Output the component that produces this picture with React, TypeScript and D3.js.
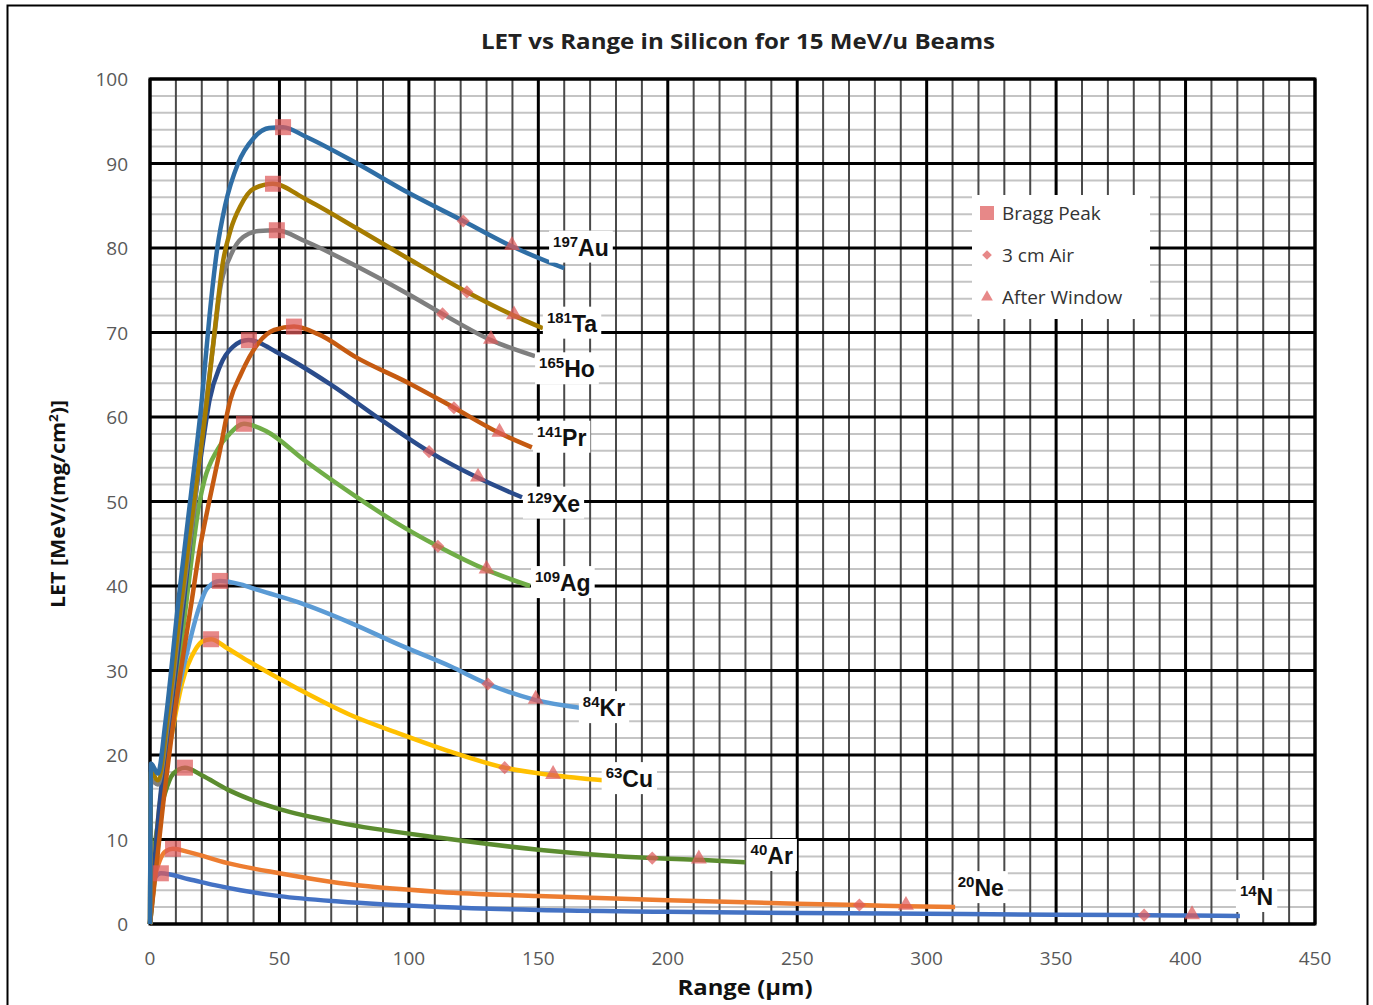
import * as d3 from 'd3';
import { useEffect, useRef } from 'react';

// ion names and mass numbers, in drawing order (bottom to top)
const ions = ['N', 'Ne', 'Ar', 'Cu', 'Kr', 'Ag', 'Xe', 'Pr', 'Ho', 'Ta', 'Au'];
const masses = ['14', '20', '40', '63', '84', '109', '129', '141', '165', '181', '197'];
const colors = ['#4472C4', '#ED7D31', '#5B8C2F', '#FFC000', '#5B9BD5', '#70AD47', '#2A4C8C', '#C55A11', '#7F7F7F', '#A67C00', '#2F6EA5'];

// LET vs range curves, [range µm, LET MeV/(mg/cm2)]
const nCurve = [[0, 0], [0.5, 3], [2, 5.5], [4.2, 6.0], [15, 5.3], [25, 4.6], [35, 4.0], [50, 3.3], [73, 2.65], [112, 2.0], [150, 1.65], [200, 1.45], [251, 1.3], [300, 1.2], [350, 1.1], [384, 1.05], [402.5, 1.0], [421, 0.95]];
const neCurve = [[0, 0], [1, 4], [3.9, 7.6], [6, 8.6], [8.9, 8.9], [15, 8.5], [30, 7.2], [50, 6.0], [73, 4.85], [112, 3.8], [150, 3.3], [200, 2.8], [250, 2.4], [274, 2.25], [292, 2.1], [311, 2.0]];
const arCurve = [[0, 0], [1.5, 8], [3.5, 12.7], [5.8, 15.5], [9, 17.8], [13.5, 18.5], [20, 17.6], [30, 15.9], [40, 14.6], [50, 13.6], [73, 12.0], [112, 10.2], [150, 8.8], [194, 7.8], [212, 7.6], [230, 7.3]];
const cuCurve = [[0, 0], [3, 12], [8.5, 22.6], [12.4, 28.5], [17.4, 32.4], [20, 33.4], [23.6, 33.7], [30, 32.6], [38.6, 31.0], [58, 27.7], [77, 24.8], [96.6, 22.5], [116, 20.4], [137, 18.5], [155.7, 17.6], [175, 17]];
const krCurve = [[0, 0], [5, 15], [10, 26], [15, 33], [19, 37.5], [22, 39.7], [27, 40.6], [35, 40.2], [42, 39.5], [58, 38.0], [77, 35.7], [96.6, 33.0], [116, 30.5], [130.5, 28.4], [149, 26.5], [166, 25.6]];
const agCurve = [[0, 0], [4, 12], [9, 25], [14, 38], [19.3, 50.2], [21, 52.5], [26, 56.1], [31, 58.1], [36.3, 59.2], [45, 58.3], [60, 54.8], [80, 50.5], [95, 47.5], [111.2, 44.7], [130, 41.9], [146.8, 40]];
const xeCurve = [[0, 0], [3, 12], [8, 25], [13, 38], [17.4, 50.2], [20, 56], [23, 62], [27, 66], [32, 68.3], [38, 69.1], [50, 67.5], [70, 63.8], [90, 59.5], [107.8, 55.9], [126.7, 52.8], [143.7, 50.5]];
const prCurve = [[0, 0], [5, 14], [10, 26], [16, 38], [19, 44], [23, 50.2], [27, 56], [31, 62], [35, 65], [42, 68.8], [48, 70.3], [55.6, 70.7], [65, 69.8], [80, 67], [100, 64], [117.4, 61.1], [135, 58.1], [147.5, 56.4]];
const hoCurve = [[0, 0], [0.4, 17], [3, 16.5], [7, 24], [12, 37], [17, 49], [21, 60], [25, 70], [27, 75], [31, 79], [36, 81.3], [42, 82], [49, 82.1], [60, 80.8], [80, 77.8], [100, 74.5], [113, 72.2], [131.7, 69.1], [148.7, 67.2]];
const taCurve = [[0, 0], [0.4, 18], [3, 17], [7, 25], [12, 38], [17, 50], [22, 62], [26, 73], [28, 78], [31, 82], [35, 85], [40, 87], [47.5, 87.6], [60, 85.8], [80, 82.3], [100, 78.7], [122.4, 74.8], [140.6, 72], [151.8, 70.5]];
const auCurve = [[0, 0], [0.4, 19], [3, 17.8], [6, 24], [11, 38.3], [15.5, 50], [20, 62], [23, 72], [26, 80], [29, 85], [34, 90], [40, 93], [46, 94.2], [51.4, 94.3], [60, 93.2], [80, 90], [100, 86.5], [121, 83.2], [139.8, 80.2], [160, 77.6]];
const curves = [nCurve, neCurve, arCurve, cuCurve, krCurve, agCurve, xeCurve, prCurve, hoCurve, taCurve, auCurve];

// marker points
const braggPeak = [[4.2, 6.0], [8.9, 8.9], [13.5, 18.5], [23.6, 33.7], [27, 40.6], [36.3, 59.2], [38.2, 69.1], [55.6, 70.7], [49, 82.1], [47.5, 87.6], [51.4, 94.3]];
const air3cm = [[384, 1.05], [274, 2.25], [194, 7.8], [137, 18.5], [130.5, 28.4], [111.2, 44.7], [107.8, 55.9], [117.4, 61.1], [113, 72.2], [122.4, 74.8], [121, 83.2]];
const afterWindow = [[402.5, 1.0], [292, 2.1], [212, 7.6], [155.7, 17.6], [149, 26.5], [130, 41.9], [126.7, 52.8], [135, 58.1], [131.7, 69.1], [140.6, 72], [139.8, 80.2]];

// label anchors (data units, baseline left)
const labelPos = [[421, 2.25], [312, 3.3], [232, 7.1], [176, 16.2], [167.2, 24.6], [148.7, 39.4], [145.6, 48.8], [149.5, 56.6], [150.3, 64.7], [153.3, 70.1], [155.7, 79.1]];

const xTicks = d3.range(0, 451, 50);
const yTicks = d3.range(0, 101, 10);
const legendItems = ['Bragg Peak', '3 cm Air', 'After Window'];

const W = 1373, H = 1005;
const markerFill = 'rgba(222,90,90,0.72)';

export default function App() {
    const ref = useRef<any>();

    useEffect(() => {
        const svg = d3.select(ref.current);
        svg.selectAll('*').remove();
        svg.append('rect').attr('width', W).attr('height', H).attr('fill', '#fff');
        svg.append('rect').attr('x', 7.5).attr('y', 5.5).attr('width', 1360).attr('height', 1010)
            .attr('fill', 'none').attr('stroke', '#000').attr('stroke-width', 2);

        const x = d3.scaleLinear().domain([0, 450]).range([150, 1315]);
        const y = d3.scaleLinear().domain([0, 100]).range([924, 79]);

        const grid = svg.append('g');
        const yMinor = d3.range(0, 101, 2).filter(v => v % 10 !== 0);
        grid.selectAll('.hminor').data(yMinor).join('line')
            .attr('x1', x(0)).attr('x2', x(450)).attr('y1', d => y(d)).attr('y2', d => y(d))
            .attr('stroke', '#c4c4c4').attr('stroke-width', 2);
        const xMinor = d3.range(0, 451, 10).filter(v => v % 50 !== 0);
        grid.selectAll('.vminor').data(xMinor).join('line')
            .attr('x1', d => x(d)).attr('x2', d => x(d)).attr('y1', y(0)).attr('y2', y(100))
            .attr('stroke', '#4a4a4a').attr('stroke-width', 2);
        grid.selectAll('.hmajor').data(yTicks).join('line')
            .attr('x1', x(0)).attr('x2', x(450)).attr('y1', d => y(d)).attr('y2', d => y(d))
            .attr('stroke', '#000').attr('stroke-width', 3);
        grid.selectAll('.vmajor').data(xTicks).join('line')
            .attr('x1', d => x(d)).attr('x2', d => x(d)).attr('y1', y(0)).attr('y2', y(100))
            .attr('stroke', '#000').attr('stroke-width', 3);
        grid.append('rect').attr('x', x(0)).attr('y', y(100)).attr('width', x(450) - x(0)).attr('height', y(0) - y(100))
            .attr('fill', 'none').attr('stroke', '#000').attr('stroke-width', 3);

        // tick labels
        svg.append('g').selectAll('text').data(yTicks).join('text')
            .attr('x', 128).attr('y', d => y(d) + 7).attr('text-anchor', 'end')
            .attr('font-family', 'Open Sans').attr('font-size', 19).attr('fill', '#595959').text(d => d);
        svg.append('g').selectAll('text').data(xTicks).join('text')
            .attr('x', d => x(d)).attr('y', 965).attr('text-anchor', 'middle')
            .attr('font-family', 'Open Sans').attr('font-size', 19).attr('fill', '#595959').text(d => d);

        // titles
        svg.append('text').attr('x', 738).attr('y', 49).attr('text-anchor', 'middle')
            .attr('font-family', 'Open Sans').attr('font-weight', 700).attr('font-size', 21)
            .attr('textLength', 514).attr('lengthAdjust', 'spacingAndGlyphs').attr('fill', '#222')
            .text('LET vs Range in Silicon for 15 MeV/u Beams');
        svg.append('text').attr('x', 745).attr('y', 995).attr('text-anchor', 'middle')
            .attr('font-family', 'Open Sans').attr('font-weight', 700).attr('font-size', 22)
            .attr('textLength', 135).attr('lengthAdjust', 'spacingAndGlyphs').attr('fill', '#111')
            .text('Range (µm)');
        const yt = svg.append('text').attr('transform', 'translate(65,504) rotate(-90)').attr('text-anchor', 'middle')
            .attr('font-family', 'Open Sans').attr('font-weight', 700).attr('font-size', 19)
            .attr('textLength', 208).attr('lengthAdjust', 'spacingAndGlyphs').attr('fill', '#111');
        yt.append('tspan').text('LET [MeV/(mg/cm');
        yt.append('tspan').attr('font-size', 12).attr('dy', -7).text('2');
        yt.append('tspan').attr('dy', 7).text(')]');

        // curves
        const line = d3.line<any>().x(d => x(d[0])).y(d => y(d[1])).curve(d3.curveMonotoneX);
        svg.append('g').selectAll('path').data(curves).join('path')
            .attr('d', d => line(d))
            .attr('fill', 'none').attr('stroke', (d, i) => colors[i]).attr('stroke-width', 4.5)
            .attr('stroke-linejoin', 'round');

        // markers
        const mk = svg.append('g');
        mk.selectAll('.bp').data(braggPeak).join('rect')
            .attr('x', d => x(d[0]) - 8).attr('y', d => y(d[1]) - 8).attr('width', 16).attr('height', 16)
            .attr('fill', markerFill);
        const diamond = d3.symbol().type(d3.symbolDiamond2).size(110);
        mk.selectAll('.air').data(air3cm).join('path')
            .attr('d', diamond).attr('transform', d => `translate(${x(d[0])},${y(d[1])})`)
            .attr('fill', markerFill);
        const tri = d3.symbol().type(d3.symbolTriangle).size(110);
        mk.selectAll('.win').data(afterWindow).join('path')
            .attr('d', tri).attr('transform', d => `translate(${x(d[0])},${y(d[1]) - 1})`)
            .attr('fill', markerFill);

        // ion labels with white boxes
        const lab = svg.append('g');
        ions.forEach((ion, i) => {
            const g = lab.append('g');
            const t = g.append('text')
                .attr('x', x(labelPos[i][0])).attr('y', y(labelPos[i][1]))
                .attr('font-family', 'Liberation Sans, Arial').attr('font-weight', 700).attr('fill', '#111');
            t.append('tspan').attr('font-size', 15).attr('dy', -9).text(masses[i]);
            t.append('tspan').attr('font-size', 23).attr('dy', 9).text(ion);
            const b = (t.node() as any).getBBox();
            g.insert('rect', 'text').attr('x', b.x - 4).attr('y', b.y - 2)
                .attr('width', b.width + 8).attr('height', b.height + 4).attr('fill', '#fff');
        });

        // legend
        const lg = svg.append('g');
        lg.append('rect').attr('x', 972).attr('y', 195).attr('width', 178).attr('height', 124).attr('fill', '#fff');
        const ly = [213, 255, 297];
        lg.append('rect').attr('x', 980).attr('y', ly[0] - 7).attr('width', 14).attr('height', 14).attr('fill', markerFill);
        lg.append('path').attr('d', d3.symbol().type(d3.symbolDiamond2).size(60)).attr('transform', `translate(987,${ly[1]})`).attr('fill', markerFill);
        lg.append('path').attr('d', d3.symbol().type(d3.symbolTriangle).size(60)).attr('transform', `translate(987,${ly[2]})`).attr('fill', markerFill);
        lg.selectAll('text').data(legendItems).join('text')
            .attr('x', 1002).attr('y', (d, i) => ly[i] + 7)
            .attr('font-family', 'Open Sans').attr('font-size', 19).attr('fill', '#333').text(d => d);
    }, []);

    return (
        <svg ref={ref} width={W} height={H} style={{ position: 'absolute', left: 0, top: 0 }}></svg>
    );
}
